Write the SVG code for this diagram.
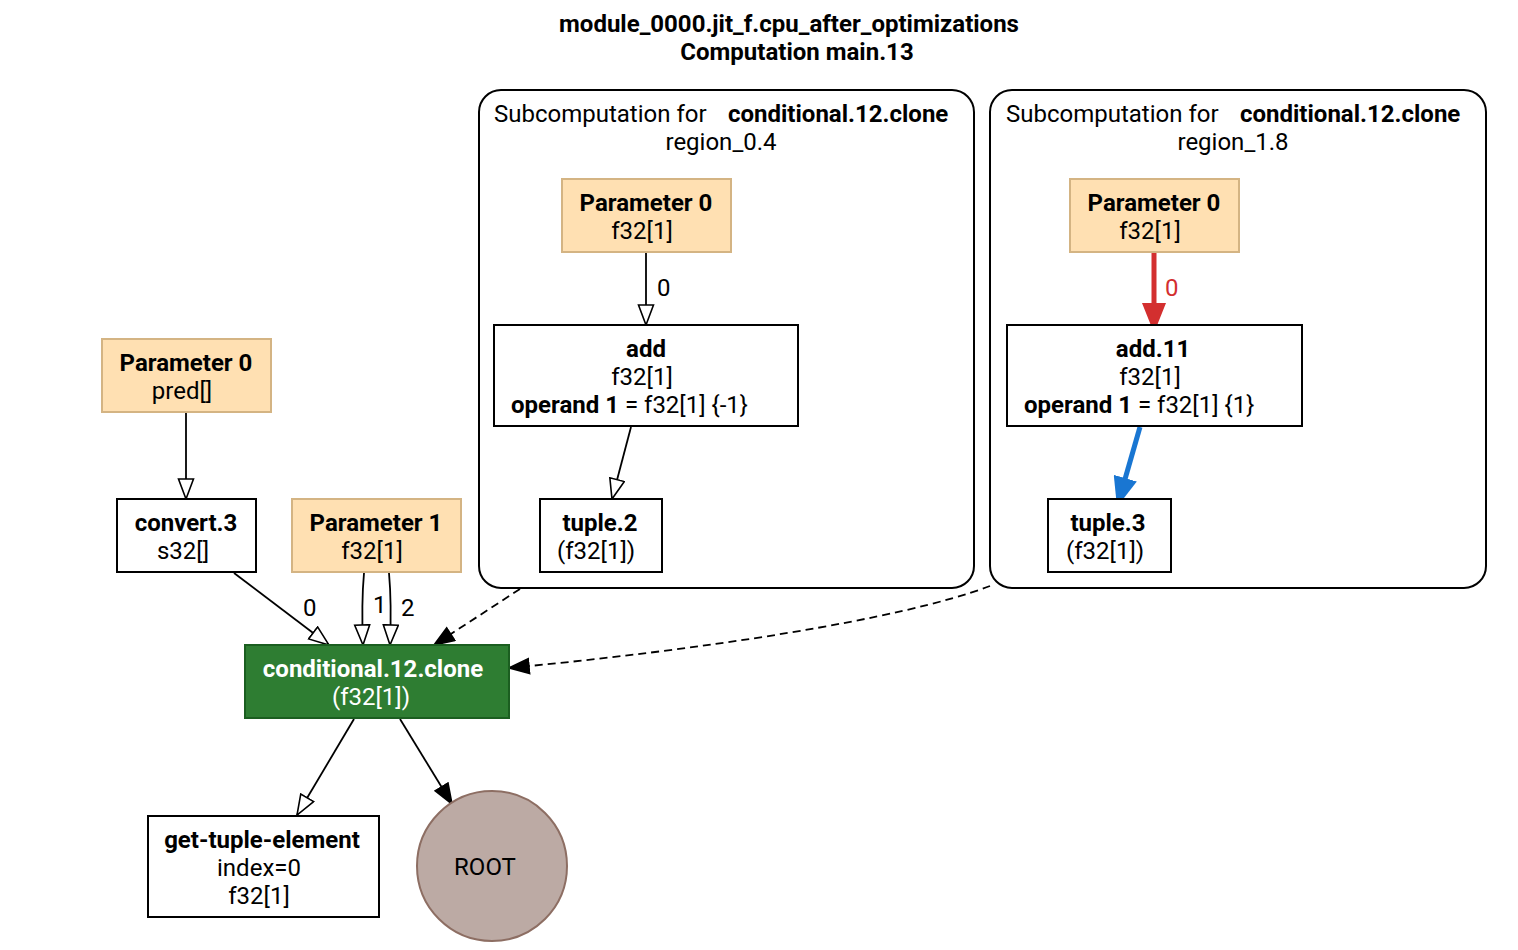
<svg xmlns="http://www.w3.org/2000/svg" width="1518" height="950" viewBox="0 0 1518 950">
  <style>
    text { font-family: Roboto, "Liberation Sans", sans-serif; font-size: 24px; fill: #000; }
    .b { font-weight: bold; }
    .c { text-anchor: middle; }
    .title { font-size: 24px; font-weight: bold; text-anchor: middle; }
    .param { fill: #FFE0B2; stroke: #D4B483; stroke-width: 2; }
    .plain { fill: #fff; stroke: #000; stroke-width: 2; }
    .cluster { fill: none; stroke: #000; stroke-width: 2; }
    .e { fill: none; stroke: #000; stroke-width: 1.8; }
    .open { marker-end: url(#openArrow); }
    .filled { marker-end: url(#fillArrow); }
    .dash { stroke-dasharray: 8 5; }
    .white { fill: #fff; }
  </style>
  <defs>
    <marker id="openArrow" markerUnits="userSpaceOnUse" markerWidth="22" markerHeight="18" refX="21" refY="8.5" orient="auto">
      <path d="M1,1 L21,8.5 L1,16 z" fill="#fff" stroke="#000" stroke-width="1.6"/>
    </marker>
    <marker id="fillArrow" markerUnits="userSpaceOnUse" markerWidth="22" markerHeight="18" refX="21" refY="8.5" orient="auto">
      <path d="M1,1 L21,8.5 L1,16 z" fill="#000" stroke="#000" stroke-width="1.6"/>
    </marker>
    <marker id="redArrow" markerUnits="userSpaceOnUse" markerWidth="31" markerHeight="24" refX="30" refY="12" orient="auto">
      <path d="M0,0 L30,12 L0,24 z" fill="#D32F2F"/>
    </marker>
    <marker id="blueArrow" markerUnits="userSpaceOnUse" markerWidth="31" markerHeight="24" refX="30" refY="12" orient="auto">
      <path d="M0,0 L30,12 L0,24 z" fill="#1976D2"/>
    </marker>
  </defs>

  <!-- graph title -->
  <text class="title" x="789" y="32">module_0000.jit_f.cpu_after_optimizations</text>
  <text class="title" x="797" y="60">Computation main.13</text>

  <!-- subcomputation clusters -->
  <g id="cluster_region_0_4">
    <rect class="cluster" x="479" y="90" width="495" height="498" rx="22"/>
    <text x="494" y="122">Subcomputation for<tspan class="b" x="728">conditional.12.clone</tspan></text>
    <text class="c" x="721" y="150">region_0.4</text>
  </g>
  <g id="cluster_region_1_8">
    <rect class="cluster" x="990" y="90" width="496" height="498" rx="22"/>
    <text x="1006" y="122">Subcomputation for<tspan class="b" x="1240">conditional.12.clone</tspan></text>
    <text class="c" x="1233" y="150">region_1.8</text>
  </g>

  <!-- connectors -->
  <g id="connectors">
    <path class="e open" d="M646,252 L646,325"/>
    <text x="657" y="296">0</text>
    <path class="e open" d="M631,427 L612,499"/>
    <path d="M1154,253 L1154,333" fill="none" stroke="#D32F2F" stroke-width="5" marker-end="url(#redArrow)"/>
    <text x="1165" y="296" style="fill:#D32F2F">0</text>
    <path d="M1140,427 L1117,507" fill="none" stroke="#1976D2" stroke-width="5" marker-end="url(#blueArrow)"/>
    <path class="e open" d="M186,412 L186,499"/>
    <path class="e open" d="M234,573 L329,645"/>
    <text x="303" y="616">0</text>
    <path class="e open" d="M364,573 C362,595 362,620 363,645"/>
    <text x="373" y="613">1</text>
    <path class="e open" d="M389,573 C391,595 391,620 390,645"/>
    <text x="401" y="616">2</text>
    <path class="e dash filled" d="M520,589 L434,645"/>
    <path class="e dash filled" d="M990,586 C900,620 700,650 509,668"/>
    <path class="e open" d="M354,719 L297,815"/>
    <path class="e filled" d="M400,719 L452,804"/>
  </g>

  <!-- nodes -->
  <g id="region0_param0">
    <rect class="param" x="562" y="179" width="169" height="73"/>
    <text class="b c" x="646" y="211">Parameter 0</text>
    <text class="c" x="642" y="239">f32[1]</text>
  </g>
  <g id="add">
    <rect class="plain" x="494" y="325" width="304" height="101"/>
    <text class="b c" x="646" y="357">add</text>
    <text class="c" x="642" y="385">f32[1]</text>
    <text x="511" y="413"><tspan class="b">operand 1</tspan> = f32[1] {-1}</text>
  </g>
  <g id="tuple_2">
    <rect class="plain" x="540" y="499" width="122" height="73"/>
    <text class="b c" x="600" y="531">tuple.2</text>
    <text x="557" y="559">(f32[1])</text>
  </g>

  <g id="region1_param0">
    <rect class="param" x="1070" y="179" width="169" height="73"/>
    <text class="b c" x="1154" y="211">Parameter 0</text>
    <text class="c" x="1150" y="239">f32[1]</text>
  </g>
  <g id="add_11">
    <rect class="plain" x="1007" y="325" width="295" height="101"/>
    <text class="b c" x="1153" y="357">add.11</text>
    <text class="c" x="1150" y="385">f32[1]</text>
    <text x="1024" y="413"><tspan class="b">operand 1</tspan> = f32[1] {1}</text>
  </g>
  <g id="tuple_3">
    <rect class="plain" x="1048" y="499" width="123" height="73"/>
    <text class="b c" x="1108" y="531">tuple.3</text>
    <text x="1066" y="559">(f32[1])</text>
  </g>

  <g id="param0_pred">
    <rect class="param" x="102" y="339" width="169" height="73"/>
    <text class="b c" x="186" y="371">Parameter 0</text>
    <text class="c" x="182" y="399">pred[]</text>
  </g>
  <g id="convert_3">
    <rect class="plain" x="117" y="499" width="139" height="73"/>
    <text class="b c" x="186" y="531">convert.3</text>
    <text class="c" x="183" y="559">s32[]</text>
  </g>
  <g id="param1">
    <rect class="param" x="292" y="499" width="169" height="73"/>
    <text class="b c" x="376" y="531">Parameter 1</text>
    <text class="c" x="372" y="559">f32[1]</text>
  </g>
  <g id="conditional_12_clone">
    <rect x="245" y="645" width="264" height="73" fill="#2E7D32" stroke="#1B5E20" stroke-width="2"/>
    <text class="b c white" x="373" y="677">conditional.12.clone</text>
    <text class="c white" x="371" y="705">(f32[1])</text>
  </g>
  <g id="get_tuple_element">
    <rect class="plain" x="148" y="816" width="231" height="101"/>
    <text class="b c" x="262" y="848">get-tuple-element</text>
    <text class="c" x="259" y="876">index=0</text>
    <text class="c" x="259" y="904">f32[1]</text>
  </g>
  <g id="root">
    <circle cx="492" cy="866" r="75" fill="#BCAAA4" stroke="#8D6E63" stroke-width="2"/>
    <text class="c" x="485" y="875">ROOT</text>
  </g>
</svg>
